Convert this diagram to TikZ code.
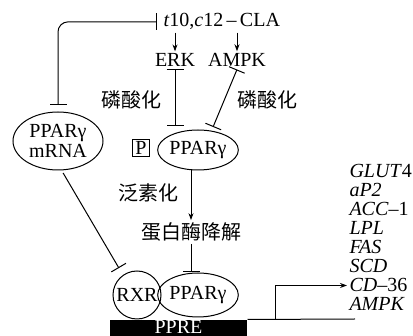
\documentclass[tikz,border=0pt]{standalone}
\usepackage{fontspec}
\setmainfont{Liberation Serif}
\newfontfamily\cjk{Noto Sans CJK SC}
\usetikzlibrary{arrows.meta,shapes.geometric}

\begin{document}
\begin{tikzpicture}[x=1pt,y=-1pt,line width=1pt,
    every node/.style={font=\fontsize{20}{19}\selectfont, inner sep=2pt},
    oval/.style={draw, ellipse, inner sep=0pt},
    block/.style={-{Bar[width=17pt]}},
    blockboth/.style={{Bar[width=17pt]}-{Bar[width=17pt]}},
    arr/.style={-{Stealth[length=7pt,width=5pt]}},
    gene/.style={anchor=base west, inner sep=2pt, font=\fontsize{20}{19}\selectfont\itshape}
  ]
  \useasboundingbox (0,0) rectangle (413,336);

  % top: CLA and kinases
  \node[anchor=base west] (cla) at (161,27) {\textit{t}10,\textit{c}12\,–\,CLA};
  \node[anchor=base] (erk) at (175,67) {ERK};
  \node[anchor=base] (ampk) at (237,67) {AMPK};

  % middle
  \node[oval, minimum width=90pt, minimum height=58pt, align=center,
        font=\fontsize{20}{20}\selectfont] (mrna) at (58,141) {PPARγ\\mRNA};
  \node[oval, minimum width=70pt, minimum height=40pt] (ppar) at (198,150) {PPARγ};
  \node[draw, minimum size=17pt, inner sep=0pt] (pbox) at (141,148) {P};
  \node (phosl) at (131,100) {\cjk 磷酸化};
  \node (phosr) at (267,100) {\cjk 磷酸化};
  \node (ubiq) at (148,193) {\cjk 泛素化};
  \node (degr) at (191,232) {\cjk 蛋白酶降解};

  % bottom: receptor on the response element
  \node[draw, circle, minimum size=48pt, inner sep=0pt] (rxr) at (137,295) {RXR};
  \node[oval, minimum width=70pt, minimum height=44pt] (ppar2) at (198,295) {PPARγ};
  \node[fill=black, minimum width=137pt, minimum height=17pt,
        inner sep=0pt, anchor=north] (ppre) at (178.5,319.5) {};
  \node[text=white, anchor=base] (ppretext) at (178.5,334) {PPRE};

  % target genes
  \foreach \g [count=\i] in {GLUT\textup{4}, aP2, ACC\textup{–1}, LPL, FAS, SCD, CD\textup{–36}, AMPK}
    \node[gene] (g\i) at (347,159+19*\i) {\g};

  \coordinate (fork) at (275,319);
  \coordinate (dnaend) at (355,319);

  % connectors
  \draw[arr] (cla.south -| erk) -- (erk.north);
  \draw[arr] (cla.south -| ampk) -- (ampk.north);
  \draw[blockboth, rounded corners=10pt, shorten <=4pt, shorten >=6pt] (cla.west) -| (mrna.north);
  \draw[blockboth, shorten >=3pt] (erk.south) -- (erk.south |- ppar.north);
  \draw[blockboth, shorten >=4pt] (ampk.south) -- (ppar.55);
  \draw[arr] (ppar.south -| degr.north) -- (degr.north);
  \draw[block] (degr.south) -- (degr.south |- ppar2.north);
  \draw[block, shorten <=3pt, shorten >=8pt] (mrna.-83) -- (rxr.125);
  \draw (ppre.north east) -- (dnaend);
  \draw[arr] (fork) |- (g7.west);
\end{tikzpicture}
\end{document}
